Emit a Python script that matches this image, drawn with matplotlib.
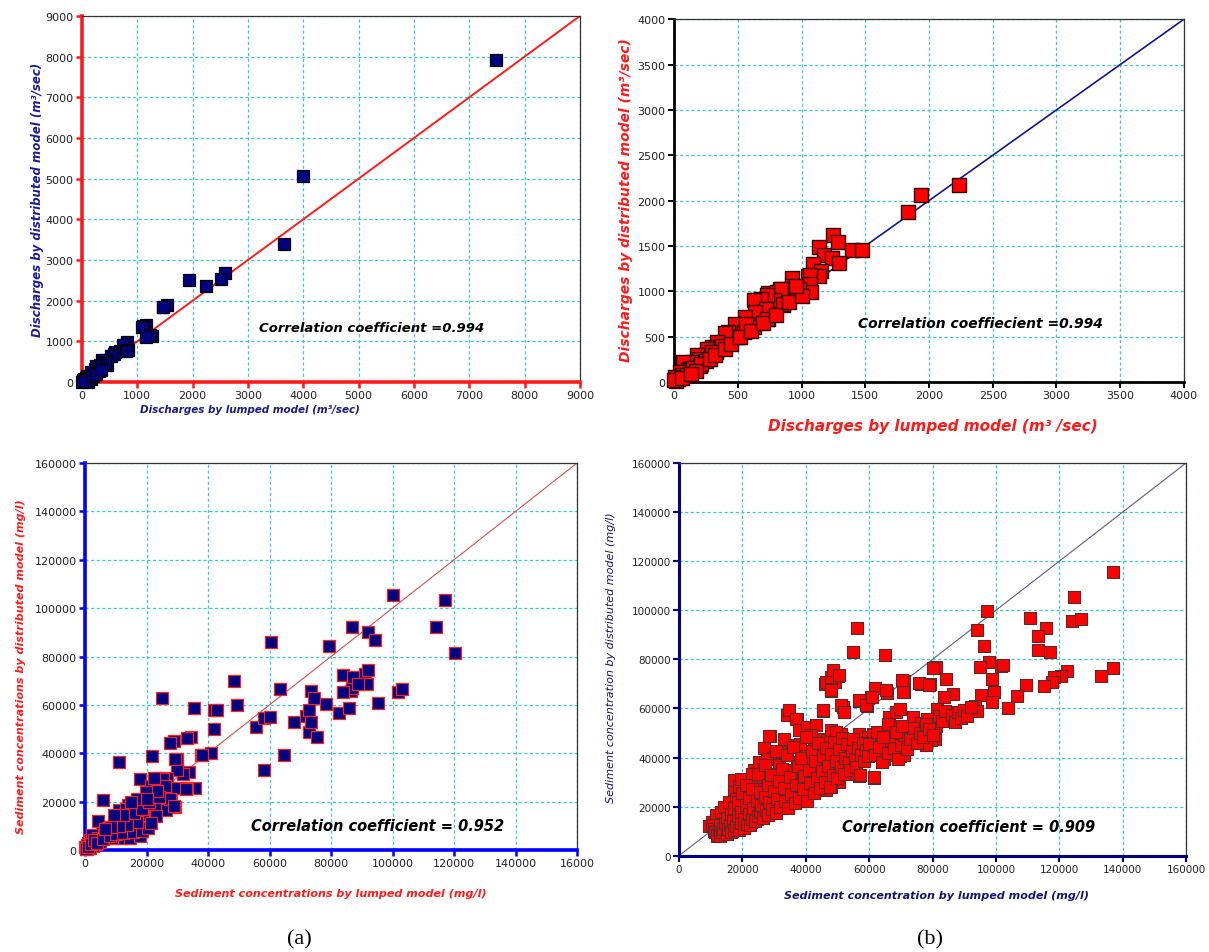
import matplotlib.pyplot as plt

# (a) top: discharges, lumped vs distributed (m3/sec)
q_pts_a = [(7490, 7920), (4000, 5070), (3650, 3400), (2590, 2690), (2520, 2540), (2240, 2370),
           (1940, 2510), (1530, 1890), (1470, 1850), (1460, 1840), (1160, 1410), (1110, 1380),
           (1090, 1350), (1270, 1140), (1230, 1160), (1160, 1110), (810, 980), (740, 920),
           (840, 790), (800, 760), (680, 760), (600, 730), (570, 680), (530, 630), (440, 550),
           (400, 510), (370, 550), (460, 430), (410, 460), (320, 430), (260, 390), (290, 310),
           (230, 310), (200, 240), (160, 240), (140, 160), (90, 160), (80, 100), (40, 70),
           (20, 50), (20, 20), (170, 70), (110, 0), (0, 0), (300, 270), (140, 100), (60, 30),
           (200, 150), (250, 200), (350, 300)]

# (b) top
q_pts_b = [(2232, 2176), (1941, 2066), (1839, 1879), (1250, 1620), (1288, 1541), (1134, 1486),
           (1395, 1452), (1476, 1450), (1173, 1400), (1240, 1370), (1297, 1310), (1089, 1299),
           (1149, 1220), (1134, 1167), (1052, 1174), (1068, 1176), (1067, 1083), (1073, 991),
           (922, 1145), (928, 1064), (983, 1028), (916, 998), (832, 1028), (741, 980), (680, 881),
           (635, 899), (650, 771), (741, 826), (741, 697), (780, 899), (856, 851), (862, 936),
           (810, 991), (837, 1029), (784, 901), (858, 864), (726, 963), (679, 912), (626, 901),
           (718, 809), (639, 772), (732, 699), (559, 716), (613, 625), (629, 606), (544, 587),
           (534, 596), (482, 643), (499, 495), (423, 550), (438, 477), (429, 478), (482, 496),
           (547, 551), (568, 643), (403, 544), (348, 422), (337, 441), (297, 386), (272, 367),
           (258, 368), (333, 330), (242, 294), (237, 276), (179, 294), (197, 257), (151, 220),
           (74, 221), (121, 139), (113, 129), (91, 110), (47, 110), (60, 73), (30, 37), (8, 55),
           (15, 11), (0, 18), (380, 400), (300, 330), (200, 180), (150, 150), (100, 80), (60, 40),
           (250, 230), (210, 200), (170, 120), (130, 90), (280, 250), (320, 300), (400, 360),
           (450, 420), (520, 500), (600, 560), (700, 650), (800, 740), (900, 880), (1000, 950),
           (960, 1060)]

# (a) bottom: sediment concentration (mg/l)
s_pts_a = [(100200, 105300), (117000, 103200), (114200, 92400), (120400, 81400), (86700, 92100),
           (92100, 90200), (94400, 87000), (79300, 84200), (60600, 86100), (48400, 69800),
           (63300, 66700), (49300, 59800), (35300, 58600), (42000, 57700), (42900, 57900),
           (41800, 50000), (25000, 62800), (29000, 45000), (27500, 44200), (34400, 46800),
           (33100, 46300), (21700, 38800), (11000, 36200), (30000, 37800), (37600, 39300),
           (41000, 40000), (38000, 39200), (64800, 39200), (58100, 32900), (55700, 51000),
           (58200, 54400), (60300, 54800), (68000, 53000), (72000, 55300), (73500, 65600),
           (73000, 57700), (74500, 62900), (72700, 49000), (73500, 52800), (75500, 46600),
           (78300, 60300), (82500, 56600), (84000, 72500), (85800, 58700), (86500, 65800),
           (86800, 67000), (87200, 71500), (91000, 72800), (92000, 74600), (91700, 68800),
           (88800, 68500), (83900, 65300), (95200, 60800), (101800, 65400), (103100, 66400),
           (35700, 25600), (33300, 25800), (33900, 32400), (32000, 31400), (29800, 33200),
           (26800, 29800), (29200, 37800), (23000, 29900), (25500, 29400), (27200, 25700),
           (30000, 25800), (32800, 25300), (18000, 29200), (21500, 26400), (21500, 22900),
           (26100, 26400), (28000, 20800), (29300, 17800), (26300, 16400), (6000, 20600),
           (22800, 18300), (17400, 19400), (14100, 18600), (10900, 16700), (13300, 16900),
           (20100, 16700), (10000, 13900), (15200, 13900), (19000, 13900), (23000, 13900),
           (4300, 12200), (7600, 9000), (13000, 8600), (16800, 9000), (19600, 9400), (9600, 11100),
           (14100, 12500), (12000, 4900), (14700, 4900), (17900, 5600), (8700, 4900), (5400, 6900),
           (3300, 5600), (2200, 3500), (1100, 2800), (0, 1400), (500, 2000), (1600, 4200),
           (2400, 6200), (4300, 4900), (6500, 5600), (27800, 21100), (29000, 18100), (22600, 29600),
           (11500, 8000), (9000, 7500), (7000, 7800), (5000, 3500), (3500, 2500), (2500, 1500),
           (1500, 800), (800, 500), (300, 300), (1000, 1200), (2000, 2500), (3000, 4000),
           (4000, 3000), (6000, 4500), (8000, 6000), (10000, 6500), (12500, 7000), (15500, 7500),
           (18500, 8000), (20500, 9000), (21500, 11000), (17000, 11500), (13500, 10500),
           (11000, 10000), (8500, 9500), (16000, 15500), (18500, 16800), (20800, 20000),
           (24000, 22000), (23500, 24500), (19800, 24000), (17000, 21000), (12500, 14500),
           (6500, 8500), (9500, 14500), (15000, 20000), (20000, 21000)]

# (b) bottom
s_pts_b = [(137100, 115800), (124600, 105600), (124100, 95800), (127000, 96500), (110800, 96700),
           (115700, 92700), (113300, 89400), (113300, 84000), (117200, 82900), (97100, 99900),
           (94000, 92000), (96100, 85600), (56200, 92700), (54900, 82900), (65000, 81900),
           (137000, 76400), (133200, 73100), (122500, 75400), (120700, 73400), (118200, 72700),
           (117600, 70700), (115200, 69000), (109500, 69700), (106700, 65200), (103700, 60100),
           (98800, 72100), (97800, 78800), (95100, 76800), (101600, 77400), (102400, 77600),
           (99400, 66600), (95400, 65500), (98800, 62500), (93300, 61100), (93900, 59100),
           (90300, 57700), (88400, 56400), (84200, 72000), (86600, 65900), (83600, 64500),
           (81000, 76800), (80300, 76600), (79100, 70000), (76500, 70000), (70900, 71100),
           (70900, 66600), (65700, 66200), (61700, 68200), (60700, 64500), (59200, 61100),
           (56800, 62900), (51900, 60500), (52200, 58400), (45500, 58800), (46200, 70000),
           (48400, 72300), (48700, 75400), (50300, 73100), (47900, 67300), (49100, 70700),
           (34300, 57500), (37100, 55700), (28600, 48900), (61700, 49600), (66200, 56400),
           (68400, 58400), (69600, 59800), (73800, 56400), (77100, 53700), (81100, 53000),
           (80900, 47600), (76300, 48200), (72000, 45500), (61700, 42100), (64400, 39400),
           (69600, 40800), (61400, 31500), (56800, 32600), (81400, 59800), (86600, 55700),
           (9500, 12300), (11000, 10200), (12100, 8200), (13700, 8900), (15300, 9500),
           (16800, 10200), (18400, 10900), (20500, 11600), (22600, 13600), (10500, 13600),
           (11600, 16400), (13200, 17700), (14200, 19800), (15800, 21800), (17400, 27300),
           (17400, 30700), (19000, 28600), (15300, 15000), (16800, 16400), (18400, 17700),
           (19500, 19800), (21100, 21800), (22600, 23200), (24200, 25200), (25300, 28600),
           (25800, 32100), (23700, 34800), (25300, 38200), (26800, 43700), (28400, 48800),
           (30000, 40200), (31600, 36800), (26800, 35500), (28900, 33400), (31000, 28600),
           (33200, 31400), (34700, 34800), (37400, 38200), (40000, 41600), (42600, 44300),
           (44700, 47700), (46800, 47100), (47900, 51200), (51100, 49800), (54200, 47700),
           (55300, 45000), (56800, 39600), (55800, 36800), (53200, 33400), (50500, 30000),
           (47900, 28000), (46300, 26600), (42600, 28000), (39500, 25900), (36300, 23200),
           (34200, 21800), (30000, 19800), (27900, 17700), (26300, 16400), (24700, 15000),
           (22600, 18400), (25800, 21800), (28400, 23900), (31000, 25200), (33700, 25900),
           (36300, 28600), (38900, 30700), (41600, 34100), (43700, 36800), (46300, 39600),
           (48900, 40900), (51600, 40200), (53200, 43700), (50000, 44300), (46800, 43000),
           (43200, 42300), (40500, 38900), (37900, 34800), (35300, 31400), (32100, 32700),
           (30000, 30000), (27900, 28000), (32100, 23200), (34700, 25900), (22600, 30000),
           (21100, 27300), (20000, 24600), (17900, 23200), (19500, 31400), (23200, 33400),
           (27900, 39600), (32600, 42300), (35800, 45000), (38200, 45700), (33200, 47700),
           (34200, 57300), (34700, 59300), (36800, 55900), (37900, 51200), (40500, 52500),
           (43200, 53200), (41600, 49100), (49500, 50500), (56800, 49800), (59500, 48400),
           (58000, 43700), (61600, 44300), (64200, 42300), (61100, 49800), (65800, 53200),
           (67400, 51900), (70000, 47700), (72100, 45000), (74700, 51200), (76300, 53900),
           (78400, 55900), (79500, 47100), (77900, 45000), (71100, 40900), (67900, 40900),
           (64700, 39600), (61600, 32100), (45300, 59300), (51100, 61400), (52100, 58700),
           (56800, 63400), (58900, 61400), (61000, 64800), (65300, 67500), (70800, 66800),
           (70500, 71600), (75800, 70300), (79000, 69600), (46300, 70900), (47900, 73000),
           (48700, 75700), (50500, 73700), (47900, 67500),
           (10500, 12500), (11000, 11000), (11500, 9500), (12000, 8500), (12500, 10500),
           (13000, 12500), (13000, 8000), (13500, 9500), (14000, 11000), (14500, 13500),
           (15000, 9000), (15000, 15500), (15500, 11000), (16000, 12500), (16500, 9500),
           (16500, 17000), (17000, 14000), (17500, 10500), (17500, 19500), (18000, 12000),
           (18500, 16000), (18500, 22000), (19000, 10500), (19500, 13500), (19500, 18000),
           (20000, 25500), (20500, 11500), (20500, 15000), (21000, 20500), (21000, 29000),
           (21500, 13000), (22000, 17000), (22000, 23500), (22500, 12500), (23000, 15000),
           (23000, 27000), (23500, 19500), (24000, 14000), (24500, 22500), (25000, 16000),
           (25000, 33500), (25500, 18000), (25500, 26000), (26000, 20500), (26500, 15500),
           (27000, 24000), (27000, 37000), (27500, 18500), (28000, 29000), (28000, 16500),
           (28500, 22000), (29000, 33000), (29500, 19000), (30000, 26500), (30500, 42500),
           (30500, 17500), (31000, 23000), (31500, 30500), (32000, 20000), (32500, 35500),
           (33000, 27500), (33500, 22500), (34000, 41000), (34500, 19500), (35000, 32000),
           (35500, 25000), (36000, 44500), (36500, 21500), (37000, 29000), (37500, 36500),
           (38000, 23500), (38500, 40000), (39000, 27000), (39500, 32500), (40000, 48500),
           (40500, 22500), (41000, 35000), (41500, 29500), (42000, 42500), (42500, 25500),
           (43000, 38500), (43500, 31500), (44000, 46000), (44500, 27500), (45000, 34500),
           (45500, 40500), (46000, 30000), (46500, 44000), (47000, 36500), (47500, 28000),
           (48000, 41500), (48500, 33000), (49000, 46500), (49500, 38500), (50000, 31500),
           (50500, 43500), (51000, 36000), (51500, 48000), (52000, 33500), (52500, 40000),
           (53000, 45500), (53500, 38000), (54000, 35000), (54500, 42500), (55000, 47500),
           (55500, 39500), (56000, 36000), (56500, 44000), (57000, 33000), (57500, 41000),
           (58000, 46000), (58500, 38500), (59000, 43000), (59500, 40500), (60000, 45500),
           (62000, 41000), (63000, 44500), (64000, 38000), (66000, 42000), (67000, 47000),
           (68000, 44000), (69000, 39500), (70000, 45000), (71000, 49000), (72000, 43500),
           (73000, 47500), (74000, 52000), (75000, 46000), (76000, 50000), (77000, 48500),
           (78000, 53500), (79000, 51500), (80000, 49000), (82000, 57000), (83000, 55000),
           (84000, 59000), (86000, 57500), (87000, 54500), (88000, 58500), (89000, 56000),
           (90000, 59500), (91000, 57000), (92000, 60500), (62500, 50500), (64500, 48500),
           (66000, 53500), (68500, 50500), (70500, 53000)]

sed_labels_a = ['0', '20000', '40000', '60000', '80000', '100000', '120000', '140000', '16000']

grid_col = '#3cc6d0'
navy = '#000080'

fig = plt.figure(figsize=(12.09, 9.53), dpi=100)


def setup(ax, lim, step, spine_col, spine_lw, tick_fs):
    ax.set_xlim(0, lim)
    ax.set_ylim(0, lim)
    ax.set_xticks(range(0, lim + 1, step))
    ax.set_yticks(range(0, lim + 1, step))
    ax.grid(True, color=grid_col, linestyle=(0, (2.5, 2)), linewidth=0.9, zorder=0)
    ax.set_axisbelow(True)
    for s in ['left', 'bottom']:
        ax.spines[s].set_color(spine_col)
        ax.spines[s].set_linewidth(spine_lw)
    for s in ['top', 'right']:
        ax.spines[s].set_color('#333333')
        ax.spines[s].set_linewidth(0.9)
    ax.tick_params(direction='out', length=4, width=spine_lw * 0.7, color=spine_col,
                   labelsize=tick_fs, labelcolor='#222222', pad=2)


# ---- top left
ax1 = fig.add_axes([0.0678, 0.5981, 0.4119, 0.3841])
setup(ax1, 9000, 1000, '#ff1a1a', 2.6, 8)
ax1.plot([0, 9000], [0, 9000], color='#ff1a1a', lw=1.4, zorder=2)
ax1.scatter([p[0] for p in q_pts_a], [p[1] for p in q_pts_a], marker='s', s=78,
            c=navy, edgecolors='black', linewidths=0.9, zorder=3, clip_on=False)
ax1.text(5230, 1330, 'Correlation coefficient =0.994', fontsize=9.5, fontweight='bold',
         fontstyle='italic', ha='center', va='center')
fig.text(0.031, 0.79, 'Discharges by distributed model (m³/sec)', rotation=90, fontsize=8.5,
         fontweight='bold', fontstyle='italic', color='#1c1c99', ha='center', va='center')
fig.text(0.207, 0.570, 'Discharges by lumped model (m³/sec)', fontsize=7.5,
         fontweight='bold', fontstyle='italic', color='#1c1c80', ha='center', va='center')

# ---- top right
ax2 = fig.add_axes([0.5575, 0.5981, 0.4218, 0.3807])
setup(ax2, 4000, 500, 'black', 2.0, 8)
ax2.plot([0, 4000], [0, 4000], color='#14148c', lw=1.2, zorder=2)
ax2.scatter([p[0] for p in q_pts_b], [p[1] for p in q_pts_b], marker='s', s=90,
            c='#ff0000', edgecolors='#2a0000', linewidths=1.0, zorder=3, clip_on=False)
ax2.text(2400, 650, 'Correlation coeffiecient =0.994', fontsize=10, fontweight='bold',
         fontstyle='italic', ha='center', va='center')
fig.text(0.518, 0.79, 'Discharges by distributed model (m³/sec)', rotation=90, fontsize=10,
         fontweight='bold', fontstyle='italic', color='#ff1a1a', ha='center', va='center')
fig.text(0.772, 0.552, 'Discharges by lumped model (m³ /sec)', fontsize=11,
         fontweight='bold', fontstyle='italic', color='#ff1a1a', ha='center', va='center')

# ---- bottom left
ax3 = fig.add_axes([0.0703, 0.1070, 0.4070, 0.4061])
setup(ax3, 160000, 20000, '#0000ff', 2.6, 8)
ax3.set_xticklabels(sed_labels_a)
ax3.plot([0, 160000], [0, 160000], color='#d05050', lw=0.8, zorder=2)
ax3.scatter([p[0] for p in s_pts_a], [p[1] for p in s_pts_a], marker='s', s=68,
            c=navy, edgecolors='#ff2020', linewidths=0.9, zorder=3, clip_on=False)
ax3.text(95000, 10000, 'Correlation coefficient = 0.952', fontsize=10.5, fontweight='bold',
         fontstyle='italic', ha='center', va='center')
fig.text(0.017, 0.301, 'Sediment concentrations by distributed model (mg/l)', rotation=90,
         fontsize=8, fontweight='bold', fontstyle='italic', color='#ff1a1a',
         ha='center', va='center')
fig.text(0.274, 0.062, 'Sediment concentrations by lumped model (mg/l)', fontsize=8,
         fontweight='bold', fontstyle='italic', color='#ff1a1a', ha='center', va='center')

# ---- bottom right
ax4 = fig.add_axes([0.5616, 0.1010, 0.4194, 0.4121])
setup(ax4, 160000, 20000, navy, 2.2, 7.5)
ax4.plot([0, 160000], [0, 160000], color='#5c5c80', lw=0.8, zorder=2)
ax4.scatter([p[0] for p in s_pts_b], [p[1] for p in s_pts_b], marker='s', s=80,
            c='#ff0000', edgecolors='#5a2a2a', linewidths=0.8, zorder=3, clip_on=False)
ax4.text(91500, 11800, 'Correlation coefficient = 0.909', fontsize=10.5, fontweight='bold',
         fontstyle='italic', ha='center', va='center')
fig.text(0.505, 0.31, 'Sediment concentration by distributed model (mg/l)', rotation=90,
         fontsize=8, fontstyle='italic', color='#14146e', ha='center', va='center')
fig.text(0.775, 0.06, 'Sediment concentration by lumped model (mg/l)', fontsize=8,
         fontweight='bold', fontstyle='italic', color='#14146e', ha='center', va='center')

fig.text(0.248, 0.0136, '(a)', fontsize=16, family='Liberation Serif', ha='center', va='center')
fig.text(0.769, 0.0136, '(b)', fontsize=16, family='Liberation Serif', ha='center', va='center')

fig.savefig('out.png', dpi=100)
